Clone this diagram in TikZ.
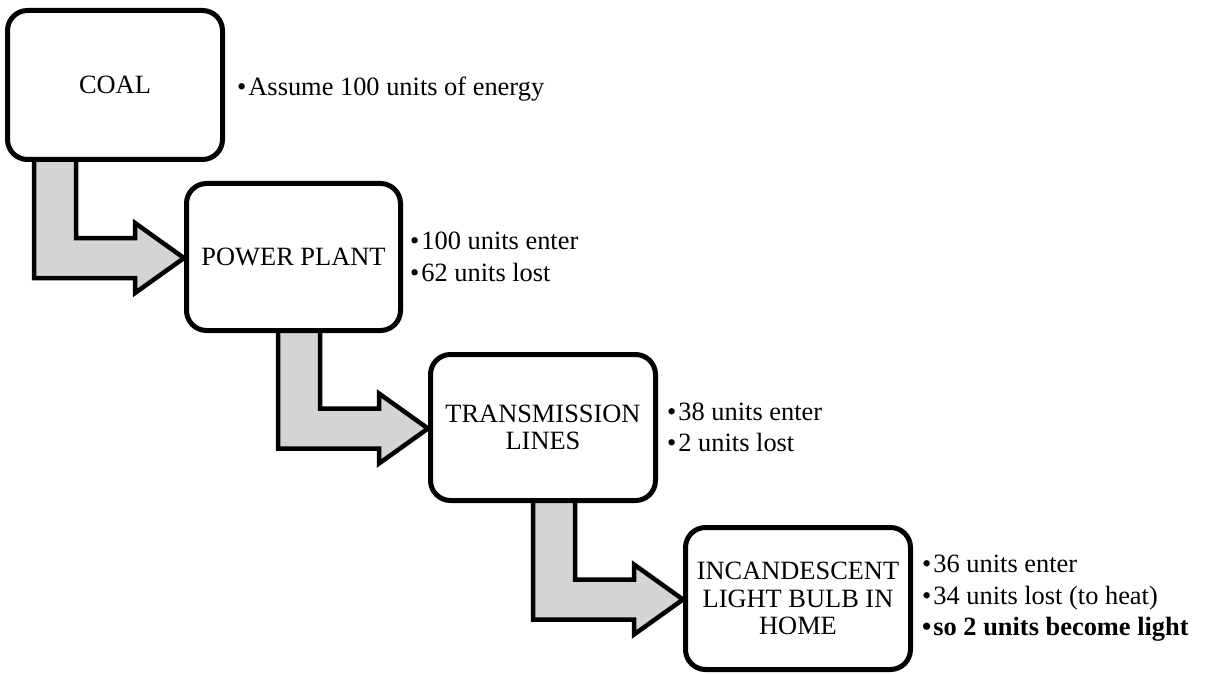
\documentclass[tikz,border=0pt]{standalone}
\usepackage{fontspec}
\setmainfont{Liberation Serif}
\usetikzlibrary{positioning,calc,backgrounds}
\definecolor{cFeed}{HTML}{D4D4D4}
\newcommand{\boxfont}{\fontsize{26.4}{27.5}\selectfont}
\newcommand{\notefont}{\fontsize{26.4}{31.5}\selectfont}
\newcommand{\bul}{•\hspace{2pt}}
\tikzset{
  stage/.style={draw, line width=5pt, rounded corners=20pt, fill=white, align=center,
    font=\boxfont, inner sep=0pt},
  note/.style={align=left, inner sep=0pt, font=\notefont},
  feed/.style={draw, line width=4.5pt, fill=cFeed},
}
% bent block arrow from the bottom of #1 into the left side of #2
\newcommand{\feedarrow}[2]{%
  \draw[feed] ($(#2.west |- #1.south)+(-150pt,3pt)$)
    -- ($(#2.west)+(-150pt,-21pt)$) -- ($(#2.west)+(-49pt,-21pt)$)
    -- ($(#2.west)+(-49pt,-36pt)$) -- ($(#2.west)+(0pt,-1pt)$)
    -- ($(#2.west)+(-49pt,34pt)$) -- ($(#2.west)+(-49pt,19pt)$)
    -- ($(#2.west)+(-108pt,19pt)$) -- ($(#2.west |- #1.south)+(-108pt,3pt)$) -- cycle;}

\begin{document}
\begin{tikzpicture}[x=1pt, y=-1pt]
    \useasboundingbox (0,0) rectangle (1211,674);
    % --- stages ---
    \node[stage, minimum width=215pt, minimum height=149pt] (coal) at (115,85) {COAL};
    \node[stage, minimum width=214pt, minimum height=147pt] (plant) at (293.5,257) {POWER PLANT};
    \node[stage, minimum width=225pt, minimum height=146pt] (lines) at (543,427.5) {TRANSMISSION\\LINES};
    \node[stage, minimum width=225pt, minimum height=142pt] (bulb) at (798,598.5) {INCANDESCENT\\LIGHT BULB IN\\HOME};
    % --- notes ---
    \node[note, right=12pt of coal, yshift=-4pt] (coalnote) {\bul Assume 100 units of energy};
    \node[note, right=7pt of plant] (plantnote) {\bul 100 units enter\\\bul 62 units lost};
    \node[note, right=9pt of lines] (linesnote) {\bul 38 units enter\\\bul 2 units lost};
    \node[note, right=9pt of bulb] (bulbnote) {\bul 36 units enter\\\bul 34 units lost (to heat)\\\textbf{\bul so 2 units become light}};
    % --- arrows ---
    \begin{scope}[on background layer]
      \feedarrow{coal}{plant}
      \feedarrow{plant}{lines}
      \feedarrow{lines}{bulb}
    \end{scope}
\end{tikzpicture}
\end{document}
